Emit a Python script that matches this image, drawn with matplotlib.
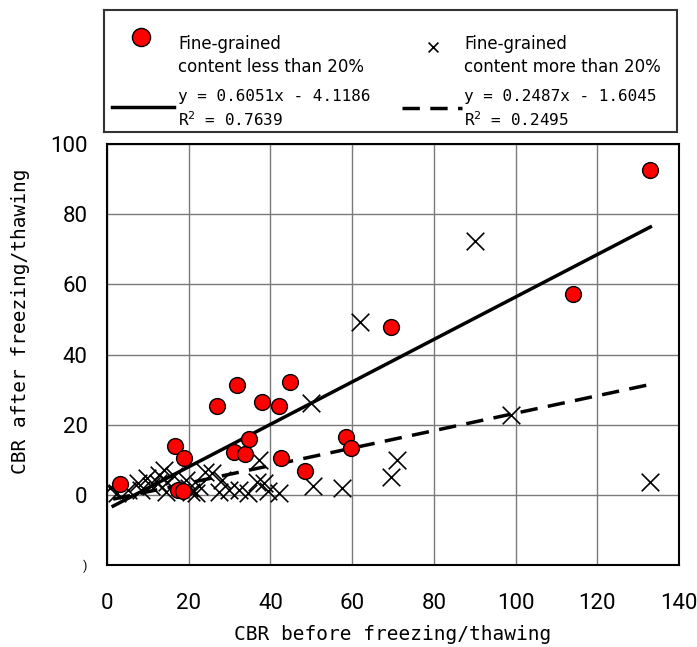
"""
CBR before / after freezing-thawing scatter with two linear fits
"""

import numpy as np
import matplotlib
matplotlib.use('Agg')
import matplotlib.pyplot as plt

# fine-grained content less than 20% (red circles)
low_x = [3.1, 16.7, 18.8, 17.4, 18.5, 27.0, 31.7, 31.2, 33.8, 34.8,
         38.0, 42.0, 42.6, 44.7, 48.5, 58.5, 59.6, 69.4, 114.0, 133.0]
low_y = [3.1, 14.0, 10.4, 1.4, 1.0, 25.4, 31.3, 12.3, 11.6, 15.9,
         26.6, 25.2, 10.4, 32.1, 6.9, 16.6, 13.3, 47.9, 57.2, 92.6]

# fine-grained content more than 20% (crosses)
high_x = [0.7, 2.5, 5.2, 7.6, 8.2, 9.9, 10.7, 12.4, 12.8, 14.0, 14.8, 14.4,
          16.5, 19.3, 20.0, 20.5, 21.7, 22.5, 24.1, 25.6, 27.4, 28.2, 29.9,
          32.3, 34.4, 36.8, 37.3, 38.5, 39.5, 42.2, 49.9, 50.5, 57.5, 62.0,
          69.6, 70.9, 90.0, 99.0, 132.9]
high_y = [1.9, 0.5, 1.4, 3.3, 1.4, 4.8, 2.4, 3.3, 5.7, 7.1, 3.8, 0.9,
          5.5, 4.3, 1.9, 0.9, 0.5, 2.4, 6.6, 6.2, 0.9, 4.3, 1.4,
          1.4, 0.5, 3.8, 10.0, 3.3, 1.0, 0.5, 26.1, 2.4, 1.9, 49.4,
          5.0, 10.0, 72.4, 22.8, 3.6]

# fitted lines (from legend)
fit_low = (0.6051, -4.1186)
fit_high = (0.2487, -1.6045)
fit_range = (1.5, 133.0)

x_ticks = [0, 20, 40, 60, 80, 100, 120, 140]
y_ticks = [-20, 0, 20, 40, 60, 80, 100]
y_tick_labels = [')', '0', '20', '40', '60', '80', '100']

W, H = 697, 647
num_font = ['Roboto', 'DejaVu Sans']
mono_font = ['DejaVu Sans Mono']

fig = plt.figure(figsize=(W / 100, H / 100), dpi=100)
ax = fig.add_axes([107 / W, 1 - 565 / H, (679 - 107) / W, (565 - 144) / H])

ax.set_xlim(0, 140)
ax.set_ylim(-20, 100)
ax.set_xticks(x_ticks)
ax.set_yticks(y_ticks)
ax.set_yticklabels(y_tick_labels)
ax.grid(True, color='#7a7a7a', lw=1.0)
ax.set_axisbelow(True)
ax.tick_params(length=0, labelsize=16)
ax.tick_params(axis='y', pad=14)
ax.tick_params(axis='x', pad=20)
for lab in ax.get_xticklabels() + ax.get_yticklabels():
    lab.set_family(num_font)
ax.get_yticklabels()[0].set_fontsize(9)
for s in ax.spines.values():
    s.set_linewidth(1.5)
    s.set_color('black')

xs = np.array(fit_range)
ax.plot(xs, fit_low[0] * xs + fit_low[1], color='black', lw=2.5, zorder=4)
ax.plot(xs, fit_high[0] * xs + fit_high[1], color='black', lw=2.5,
        dashes=(5, 3), zorder=4)

ax.scatter(high_x, high_y, marker='x', s=160, color='black', lw=1.2, zorder=3)
ax.scatter(low_x, low_y, marker='o', s=130, color='#ff0000',
           edgecolor='black', lw=1.0, zorder=5)

ax.set_xlabel('CBR before freezing/thawing', fontsize=14, family=mono_font,
              labelpad=8)
ax.set_ylabel('CBR after freezing/thawing', fontsize=14, family=mono_font)
ax.yaxis.set_label_coords(-0.135, 0.58)

# legend box drawn in pixel coordinates
lax = fig.add_axes([104 / W, 1 - 132 / H, (677 - 104) / W, (132 - 10) / H])
lax.set_xlim(104, 677)
lax.set_ylim(132, 10)
lax.set_xticks([])
lax.set_yticks([])
for s in lax.spines.values():
    s.set_linewidth(1.5)
    s.set_color('#333333')

lax.scatter([141], [37], marker='o', s=170, color='#ff0000',
            edgecolor='black', lw=1.0)
lax.scatter([433], [47], marker='x', s=50, color='black', lw=1.2)
lax.plot([112, 174], [107, 107], color='black', lw=2.5)
lax.plot([402, 462], [108, 108], color='black', lw=2.5, dashes=(5, 3))

txt = dict(fontsize=12, va='center', ha='left')
lax.text(178, 44, 'Fine-grained', **txt)
lax.text(178, 67, 'content less than 20%', **txt)
lax.text(464, 44, 'Fine-grained', **txt)
lax.text(464, 67, 'content more than 20%', **txt)

eq = dict(fontsize=11.5, va='center', ha='left', family=mono_font)
lax.text(178, 96, 'y = 0.6051x - 4.1186', **eq)
lax.text(178, 120, 'R$^2$ = 0.7639', **eq)
lax.text(464, 96, 'y = 0.2487x - 1.6045', **eq)
lax.text(464, 120, 'R$^2$ = 0.2495', **eq)

fig.savefig('out.png', dpi=100)
